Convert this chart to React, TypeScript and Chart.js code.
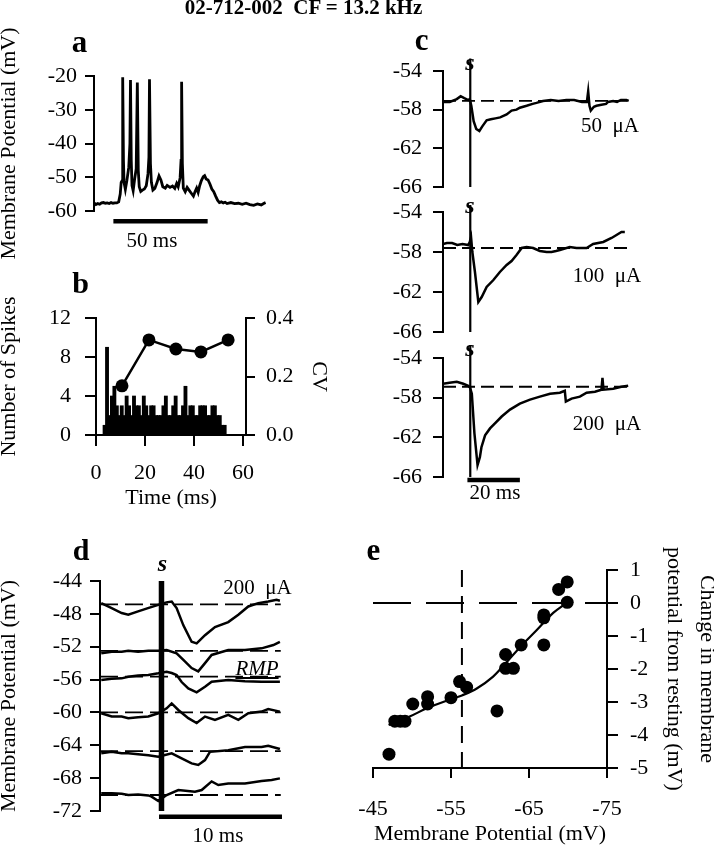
import React, { useEffect, useRef } from "react";
import { Chart, registerables } from "chart.js";

Chart.register(...registerables);

const PAGE_W = 714;
const PAGE_H = 853;
const SERIF = "'Liberation Serif', 'Times New Roman', Times, serif";
const AXIS_FONT = 22;
Chart.defaults.font.family = SERIF;
Chart.defaults.color = "#000";

type P = [number, number];

// ---------------- Panel a : membrane potential trace ----------------
const aYTicks = [-20, -30, -40, -50, -60];
const aTrace: P[] = [
  [0, -57.6], [1, -58.1], [2, -57.8], [3, -58.0], [4, -57.6], [5, -57.5], [6, -57.7], [7, -57.6],
  [8, -57.8], [9, -57.5], [10, -57.7], [11, -57.6], [12, -57.6], [13, -57.3], [13.8, -55],
  [14.3, -51.5], [14.8, -51], [15.1, -20.4], [15.5, -45], [15.8, -51.5], [16.5, -53.6],
  [17.3, -51], [18.3, -47], [18.9, -40], [19.2, -21.2], [19.6, -45], [20.0, -52.5], [20.6, -54.0],
  [21.4, -50.5], [22.2, -47.5], [22.8, -21.9], [23.3, -48], [23.8, -52.8], [24.6, -54.2],
  [25.5, -53.8], [26.5, -53.5], [27.5, -52.5], [28.4, -49], [28.9, -44], [29.2, -21.0],
  [29.7, -46], [30.2, -51.5], [31.0, -53.8], [32.0, -53.3], [33.2, -51.5], [34.2, -49.6],
  [35.2, -50.8], [36.2, -52.8], [37.5, -53.2], [38.5, -52.4], [40, -53], [41.3, -52.6],
  [42.5, -53.3], [43.5, -51.8], [44.3, -52.8], [45.3, -50.2], [45.8, -45], [46.1, -21.7],
  [46.5, -46], [47, -53.2], [48, -54.3], [49, -53.0], [50, -53.8], [51, -54.6], [52.3, -55.6],
  [53.2, -54.2], [54, -53.2], [54.8, -54.5], [55.6, -52.5], [56.5, -51], [57.5, -49.8],
  [58.2, -49.5], [59, -50.5], [60, -50.8], [61, -52], [62, -53.5], [63, -54.3], [64, -55.6],
  [65, -56.8], [66, -57.5], [67, -57.3], [68, -57.6], [69, -57.4], [70, -57.8], [72, -57.5],
  [74, -57.8], [76, -57.7], [78, -58.0], [80, -57.7], [82, -58.1], [84, -58.3], [86, -57.9],
  [88, -58.2], [89.5, -57.7], [90.3, -57.5],
];
const aScaleBar: P[] = [[10.2, -63], [59.8, -63]];

// ---------------- Panel b : spike histogram + CV ----------------
const bXTicks = [0, 20, 40, 60];
const bCountTicks = [0, 4, 8, 12];
const bCvTicks = [0, 0.2, 0.4];
const bBinStart = [3, 4, 5, 6, 7, 8, 9, 10, 11, 12, 13, 14, 15, 16, 17, 18, 19, 20, 21, 22, 23, 24, 25, 26, 27, 28, 29, 30, 31, 32, 33, 34, 35, 36, 37, 38, 39, 40, 41, 42, 43, 44, 45, 46, 47, 48, 49, 50, 51, 52];
const bCounts = [1, 9, 2, 4, 5, 3, 2, 3, 2, 4, 3, 2, 4, 3, 3, 2, 4, 3, 2, 3, 3, 2, 2, 2, 3, 4, 2, 2, 3, 4, 2, 2, 3, 5, 2, 3, 3, 2, 2, 3, 3, 3, 2, 2, 3, 3, 2, 2, 1, 1];
const bCvTime = [10.6, 21.6, 32.6, 42.8, 53.9];
const bCv = [0.168, 0.325, 0.294, 0.284, 0.325];

// ---------------- Panel c : responses to 50/100/200 uA ----------------
const cYTicks = [-54, -58, -62, -66];
const cStimTime = 10.5;
const c50: P[] = [
  [0, -57.2], [2.6, -57.2], [5.3, -56.9], [6.8, -56.6], [8.2, -56.8], [9.7, -57.0], [10.3, -56.9],
  [10.9, -57.6], [11.8, -59.2], [12.8, -60.0], [14.0, -60.2], [15.2, -59.7], [16.8, -59.1],
  [18.4, -59.0], [20.2, -58.9], [22.0, -58.8], [24.5, -58.5], [26.4, -58.1], [28.3, -58.0],
  [29.6, -57.8], [32.2, -57.6], [34.5, -57.4], [36.0, -57.3], [38.5, -57.1], [41.5, -57.0],
  [44.5, -57.1], [47.5, -57.0], [50.5, -57.0], [53.5, -57.2], [55.4, -57.2], [55.9, -56.1],
  [56.4, -57.6], [56.9, -58.1], [58.1, -57.7], [59.1, -57.6], [61.0, -57.5], [62.8, -57.4],
  [63.5, -57.2], [65.5, -57.1], [67.0, -57.2], [68.5, -57.0], [70.6, -57.0], [71.5, -57.1],
];
const c100: P[] = [
  [0, -57.2], [1.5, -57.1], [3.5, -57.1], [5.5, -57.3], [7.5, -57.2], [9.7, -57.3], [10.3, -57.0],
  [10.8, -56.5], [11.3, -58.0], [12.3, -60.0], [13.6, -63.0], [14.9, -62.5], [16.8, -61.5],
  [19.4, -60.8], [21.9, -60.0], [24.5, -59.3], [26.4, -58.9], [28.3, -58.3], [30.3, -57.6],
  [32.2, -57.5], [34.7, -57.6], [37.3, -57.9], [39.9, -58.0], [41.8, -58.0], [43.5, -57.9],
  [45.0, -57.8], [48.8, -57.5], [51.4, -57.6], [55.3, -57.6], [57.8, -57.2], [61.7, -57.0],
  [64.9, -56.6], [66.8, -56.3], [68.7, -56.0], [70.0, -56.0],
];
const c200: P[] = [
  [0, -56.6], [2.5, -56.5], [5.3, -56.4], [7.8, -56.6], [9.7, -56.8], [10.4, -57.0], [11.1, -57.6],
  [12.1, -61.6], [13.3, -64.8], [14.2, -64.0], [14.8, -63.0], [16.2, -61.8], [18.1, -61.1],
  [20.0, -60.6], [22.6, -59.9], [25.8, -59.2], [29.6, -58.6], [33.5, -58.2], [37.3, -57.9],
  [41.2, -57.6], [45.0, -57.5], [46.9, -57.3], [47.3, -58.4], [49.5, -58.1], [52.7, -57.9],
  [55.3, -57.5], [58.5, -57.4], [61.0, -57.2], [61.4, -56.0], [61.8, -57.2], [65.5, -57.1],
  [68.7, -56.9], [71.3, -56.8],
];
const cBaselines = [-57.1, -57.6, -56.9];
const cStimTop = [-52.7, -53.3, -52.7];
const cScaleBar: P[] = [[9.4, -66.3], [29.6, -66.3]];

// ---------------- Panel d : responses at different holding potentials ----------------
const dYTicks = [-44, -48, -52, -56, -60, -64, -68, -72];
const dStimTime = 5.0;
const dTrace1: P[] = [
  [0.1, -46.7], [0.95, -47.3], [1.76, -47.9], [2.3, -48.1], [3.1, -47.7], [3.9, -47.3], [4.74, -46.9],
  [5.4, -46.6], [5.83, -46.5], [6.23, -47.3], [6.78, -49.4], [7.45, -51.4], [7.86, -51.6],
  [8.54, -50.6], [9.35, -49.6], [10.43, -49.0], [11.25, -48.1], [12.06, -47.1], [12.87, -46.7],
  [13.68, -46.5], [14.36, -46.3], [14.63, -46.4],
];
const dTrace2: P[] = [
  [0.1, -52.8], [0.95, -52.6], [1.76, -52.6], [2.3, -52.5], [3.1, -52.6], [3.93, -52.5], [4.74, -52.5],
  [5.42, -52.4], [6.23, -52.8], [6.78, -53.6], [7.45, -54.6], [7.99, -55.0], [8.54, -54.0],
  [9.08, -53.0], [10.43, -52.4], [11.79, -52.4], [13.14, -52.2], [14.1, -51.8], [14.63, -51.4],
];
const dTrace3: P[] = [
  [0.1, -56.05], [0.95, -55.9], [1.76, -55.85], [2.3, -55.65], [3.1, -55.5], [3.93, -55.45],
  [4.74, -55.24], [5.42, -55.04], [5.83, -55.2], [6.23, -55.45], [6.64, -56.3], [7.18, -57.07],
  [7.86, -57.56], [8.54, -56.87], [9.08, -56.26], [10.43, -56.05], [11.79, -56.2], [13.14, -56.26],
  [14.63, -56.26],
];
const dTrace4: P[] = [
  [0.1, -60.1], [0.95, -60.5], [1.76, -60.5], [2.3, -60.7], [3.1, -60.6], [3.93, -60.5], [4.74, -60.1],
  [5.42, -59.5], [5.83, -58.9], [6.37, -59.7], [7.18, -60.7], [7.86, -61.3], [8.54, -60.5],
  [9.35, -60.9], [10.43, -60.3], [11.25, -60.9], [12.06, -60.1], [13.14, -59.9], [13.68, -59.6],
  [14.63, -59.9],
];
const dTrace5: P[] = [
  [0.1, -64.98], [0.95, -64.8], [1.76, -64.98], [2.3, -64.98], [3.1, -65.1], [3.93, -65.2],
  [4.74, -65.4], [5.83, -64.98], [6.64, -65.6], [7.45, -66.2], [7.99, -66.4], [8.54, -65.8],
  [8.94, -64.8], [10.43, -64.6], [11.79, -64.2], [13.14, -64.2], [13.68, -64.05], [14.63, -64.46],
];
const dTrace6: P[] = [
  [0.1, -69.85], [0.95, -69.85], [1.76, -69.9], [2.3, -70.06], [3.1, -69.98], [3.93, -70.1],
  [4.2, -70.26], [4.74, -70.79], [5.42, -70.06], [6.37, -69.45], [7.72, -69.65], [8.27, -69.45],
  [9.08, -68.4], [9.62, -68.84], [10.43, -68.64], [11.79, -68.64], [13.14, -68.35], [13.96, -68.23],
  [14.63, -68.03],
];
const dBaselines = [-46.84, -52.5, -55.65, -60.0, -64.7, -70.05];
const dScaleBar: P[] = [[4.8, -72.7], [14.8, -72.7]];

// ---------------- Panel e : change vs membrane potential ----------------
const eXTicks = [-45, -55, -65, -75];
const eYTicks = [1, 0, -1, -2, -3, -4, -5];
const ePoints: P[] = [
  [-47.05, -4.58], [-47.8, -3.58], [-48.5, -3.58], [-49.1, -3.58], [-50.1, -3.06], [-52.0, -2.84],
  [-52.0, -3.06], [-55.0, -2.87], [-56.1, -2.38], [-57.0, -2.55], [-60.9, -3.27], [-62.0, -1.56],
  [-62.0, -1.98], [-63.0, -1.98], [-64.0, -1.27], [-66.9, -0.36], [-66.9, -0.45], [-66.9, -1.27],
  [-68.8, 0.41], [-69.9, 0.64], [-69.9, 0.02],
];
const eFit: P[] = [
  [-47, -3.7], [-49.7, -3.44], [-51.9, -3.19], [-54.9, -2.92], [-56.4, -2.8], [-58.3, -2.59],
  [-60.4, -2.23], [-62.1, -1.8], [-64, -1.3], [-66, -0.82], [-68.1, -0.3], [-69.8, 0.0],
];
const eRestingMv = -56.4;

// ---------------- helpers ----------------
type Area = { left: number; top: number; right: number; bottom: number };
type Sizes = { left?: number; right?: number; bottom?: number };

const xy = (pts: P[]) => pts.map(([x, y]) => ({ x, y }));

function layoutPadding(a: Area, s: Sizes) {
  return {
    left: a.left - (s.left ?? 0),
    top: a.top,
    right: PAGE_W - a.right - (s.right ?? 0),
    bottom: PAGE_H - a.bottom - (s.bottom ?? 0),
  };
}

function axis(o: {
  position: string; min: number; max: number; ticks: number[]; size: number;
  tickLength: number; padding: number; reverse?: boolean; format?: (v: number) => string; title?: any;
}) {
  return {
    type: "linear",
    position: o.position,
    min: o.min,
    max: o.max,
    reverse: !!o.reverse,
    offset: false,
    afterBuildTicks: (s: any) => { s.ticks = o.ticks.map((v) => ({ value: v })); },
    afterFit: (s: any) => { if (s.isHorizontal()) s.height = o.size; else s.width = o.size; },
    grid: {
      display: true, drawOnChartArea: false, drawTicks: true, offset: false,
      tickLength: o.tickLength, tickWidth: 2, tickColor: "#000", color: "#000", lineWidth: 2,
    },
    border: { display: true, color: "#000", width: 2 },
    ticks: {
      color: "#000", font: { family: SERIF, size: AXIS_FONT }, padding: o.padding,
      autoSkip: false, maxRotation: 0, minRotation: 0,
      callback: (v: any) => (o.format ? o.format(Number(v)) : String(v)),
    },
    title: o.title ?? { display: false },
  };
}

function hiddenX(min: number, max: number) {
  return { type: "linear", display: false, min, max, offset: false, grid: { offset: false } };
}

function line(pts: P[], extra: any = {}) {
  return {
    type: "line", data: xy(pts), borderColor: "#000", backgroundColor: "#000",
    borderWidth: 2.5, pointRadius: 0, tension: 0, fill: false, borderCapStyle: "butt",
    ...extra,
  };
}

function options(area: Area, sizes: Sizes, scales: any) {
  return {
    responsive: false, maintainAspectRatio: false, animation: false, devicePixelRatio: 1,
    events: [],
    layout: { padding: layoutPadding(area, sizes), autoPadding: false },
    plugins: { legend: { display: false }, tooltip: { enabled: false }, title: { display: false } },
    scales,
  };
}

const vTitle = (text: any, padTop: number, lineHeight = 1) => ({
  display: true, text, color: "#000",
  font: { family: SERIF, size: AXIS_FONT, lineHeight },
  padding: { top: padTop, bottom: 0 },
});
const hTitle = (text: string, padBottom: number) => ({
  display: true, text, color: "#000",
  font: { family: SERIF, size: AXIS_FONT, lineHeight: 1 },
  padding: { top: 0, bottom: padBottom },
});

// ---------------- chart configs ----------------
function configA() {
  const area = { left: 94, top: 76, right: 266, bottom: 211 };
  return {
    type: "line",
    data: {
      datasets: [
        line(aTrace, { borderWidth: 2.8 }),
        line(aScaleBar, { borderWidth: 4.5, clip: false }),
      ],
    },
    options: options(area, { left: 94 }, {
      x: hiddenX(0, 90.5),
      y: axis({ position: "left", min: -60, max: -20, ticks: aYTicks, size: 94, tickLength: 9, padding: 8,
        title: vTitle("Membrane Potential (mV)", -2) }),
    }),
  };
}

function configB() {
  const area = { left: 96, top: 318, right: 246, bottom: 435 };
  const bars = bBinStart.map((s, i) => ({ x: s + 0.5, y: bCounts[i] }));
  const cv = bCvTime.map((t, i) => ({ x: t, y: bCv[i] }));
  return {
    type: "line",
    data: {
      datasets: [
        {
          type: "bar", data: bars, backgroundColor: "#000", borderWidth: 0,
          barThickness: 3.2, xAxisID: "x", yAxisID: "y", order: 2,
        },
        {
          type: "line", data: cv, borderColor: "#000", backgroundColor: "#000", borderWidth: 2.5,
          pointRadius: 6.5, pointBorderWidth: 0, pointBackgroundColor: "#000", tension: 0,
          xAxisID: "x", yAxisID: "y2", order: 1, clip: false,
        },
      ],
    },
    options: options(area, { left: 96, right: 84, bottom: 76 }, {
      x: axis({ position: "bottom", min: 0, max: 61.2, ticks: bXTicks, size: 76, tickLength: 11, padding: 14,
        title: hTitle("Time (ms)", 2) }),
      y: axis({ position: "left", min: 0, max: 12, ticks: bCountTicks, size: 96, tickLength: 11, padding: 14,
        title: vTitle("Number of Spikes", -2) }),
      y2: axis({ position: "right", min: 0, max: 0.4, ticks: bCvTicks, size: 84, tickLength: 9, padding: 11,
        format: (v) => v.toFixed(1), title: vTitle("CV", 0) }),
    }),
  };
}

function configC(idx: number) {
  const areas = [
    { left: 443, top: 71, right: 630, bottom: 187 },
    { left: 443, top: 212, right: 630, bottom: 332 },
    { left: 443, top: 358, right: 630, bottom: 477 },
  ];
  const traces = [c50, c100, c200];
  const area = areas[idx];
  const datasets: any[] = [
    line([[0, cBaselines[idx]], [71.5, cBaselines[idx]]], { borderWidth: 1.8, borderDash: [13, 6] }),
    line(traces[idx], { borderWidth: 2.5 }),
    line([[cStimTime, cStimTop[idx]], [cStimTime, -66]], { borderWidth: 2.2, clip: false }),
  ];
  if (idx === 2) datasets.push(line(cScaleBar, { borderWidth: 4.5, clip: false }));
  return {
    type: "line",
    data: { datasets },
    options: options(area, { left: 90 }, {
      x: hiddenX(0, 72),
      y: axis({ position: "left", min: -66, max: -54, ticks: cYTicks, size: 90, tickLength: 10, padding: 11 }),
    }),
  };
}

function configD() {
  const area = { left: 100, top: 581, right: 281, bottom: 811 };
  const datasets: any[] = [];
  dBaselines.forEach((b) => datasets.push(line([[0, b], [14.7, b]], { borderWidth: 1.8, borderDash: [18, 7] })));
  [dTrace1, dTrace2, dTrace3, dTrace4, dTrace5, dTrace6].forEach((t) => datasets.push(line(t, { borderWidth: 2.5 })));
  datasets.push(line([[dStimTime, -44], [dStimTime, -72]], { borderWidth: 5.5, clip: false }));
  datasets.push(line(dScaleBar, { borderWidth: 4.5, clip: false }));
  return {
    type: "line",
    data: { datasets },
    options: options(area, { left: 100 }, {
      x: hiddenX(0, 14.72),
      y: axis({ position: "left", min: -72, max: -44, ticks: dYTicks, size: 100, tickLength: 10, padding: 8,
        title: vTitle("Membrane Potential (mV)", -2) }),
    }),
  };
}

function configE() {
  const area = { left: 373, top: 570, right: 607, bottom: 768 };
  return {
    type: "line",
    data: {
      datasets: [
        line([[-45, 0], [-75, 0]], { borderWidth: 2, borderDash: [38, 15] }),
        line([[eRestingMv, 1], [eRestingMv, -5]], { borderWidth: 2, borderDash: [17, 9] }),
        line(eFit, { borderWidth: 2.2, tension: 0.35 }),
        {
          type: "line", data: xy(ePoints), showLine: false, pointRadius: 6.5, pointBorderWidth: 0,
          pointBackgroundColor: "#000", borderColor: "#000", backgroundColor: "#000", clip: false,
        },
      ],
    },
    options: options(area, { right: 107, bottom: 80 }, {
      x: axis({ position: "bottom", min: -75, max: -45, reverse: true, ticks: eXTicks, size: 80, tickLength: 10,
        padding: 18, title: hTitle("Membrane Potential (mV)", 2.5) }),
      y: axis({ position: "right", min: -5, max: 1, ticks: eYTicks, size: 107, tickLength: 11, padding: 12,
        title: vTitle(["Change in membrane", "potential from resting (mV)"], -9.5, 33 / AXIS_FONT) }),
    }),
  };
}

// ---------------- components ----------------
function ChartCanvas({ make }: { make: () => any }) {
  const ref = useRef<HTMLCanvasElement | null>(null);
  useEffect(() => {
    if (!ref.current) return;
    const chart = new Chart(ref.current, make());
    return () => chart.destroy();
  }, []);
  return (
    <canvas
      ref={ref}
      width={PAGE_W}
      height={PAGE_H}
      style={{ position: "absolute", left: 0, top: 0, width: PAGE_W, height: PAGE_H }}
    />
  );
}

function Txt(props: {
  x: number; y: number; text: string; size?: number; bold?: boolean; italic?: boolean; underline?: boolean;
}) {
  const size = props.size ?? 21;
  return (
    <div
      style={{
        position: "absolute",
        left: props.x,
        top: props.y - 0.8375 * size,
        transform: "translateX(-50%)",
        fontFamily: SERIF,
        fontSize: size,
        lineHeight: 1,
        fontWeight: props.bold ? 700 : 400,
        fontStyle: props.italic ? "italic" : "normal",
        textDecoration: props.underline ? "underline" : "none",
        whiteSpace: "pre",
        color: "#000",
      }}
    >
      {props.text}
    </div>
  );
}

export default function App() {
  return (
    <div
      style={{
        position: "absolute", left: 0, top: 0, width: PAGE_W, height: PAGE_H,
        background: "#fff", overflow: "hidden",
      }}
    >
      <ChartCanvas make={configA} />
      <ChartCanvas make={configB} />
      <ChartCanvas make={() => configC(0)} />
      <ChartCanvas make={() => configC(1)} />
      <ChartCanvas make={() => configC(2)} />
      <ChartCanvas make={configD} />
      <ChartCanvas make={configE} />

      <Txt x={303.5} y={15} text={"02-712-002  CF = 13.2 kHz"} size={21} bold />

      <Txt x={79.5} y={52} text="a" size={31} bold />
      <Txt x={80.5} y={293} text="b" size={30} bold />
      <Txt x={421.7} y={50} text="c" size={31} bold />
      <Txt x={81} y={560} text="d" size={30} bold />
      <Txt x={373.5} y={560} text="e" size={31} bold />

      <Txt x={152} y={248} text="50 ms" />
      <Txt x={495} y={500} text="20 ms" />
      <Txt x={218} y={843} text="10 ms" />

      <Txt x={610} y={132.7} text={"50  \u03bcA"} />
      <Txt x={607} y={282.3} text={"100  \u03bcA"} />
      <Txt x={607} y={430.7} text={"200  \u03bcA"} />
      <Txt x={257.5} y={594.3} text={"200  \u03bcA"} />
      <Txt x={257} y={676} text="RMP" italic underline />

      <Txt x={470} y={70} text="s" size={24} bold italic />
      <Txt x={470} y={213} text="s" size={24} bold italic />
      <Txt x={470} y={356} text="s" size={24} bold italic />
      <Txt x={162.5} y={571} text="s" size={24} bold italic />
    </div>
  );
}
